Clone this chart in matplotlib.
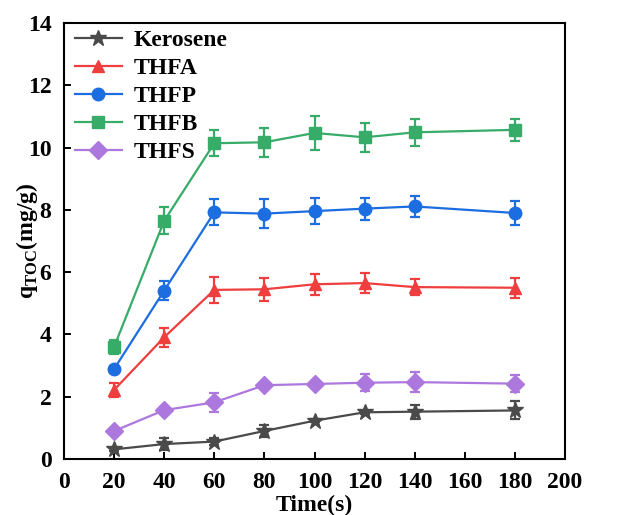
import matplotlib
matplotlib.use("Agg")
import matplotlib.pyplot as plt

plt.rcParams['font.family'] = ['Liberation Serif', 'DejaVu Serif']
plt.rcParams['font.weight'] = 'bold'
plt.rcParams['mathtext.fontset'] = 'custom'
plt.rcParams['mathtext.rm'] = 'Liberation Serif'
plt.rcParams['mathtext.bf'] = 'Liberation Serif:bold'

# data
time_s = [20, 40, 60, 80, 100, 120, 140, 180]

kerosene = [0.31, 0.48, 0.56, 0.90, 1.23, 1.50, 1.52, 1.56]
kerosene_err = [0.05, 0.20, 0.12, 0.20, 0.05, 0.05, 0.22, 0.29]

thfa = [2.22, 3.91, 5.43, 5.45, 5.61, 5.65, 5.52, 5.50]
thfa_err = [0.22, 0.31, 0.43, 0.37, 0.33, 0.32, 0.25, 0.32]

thfp = [2.89, 5.41, 7.92, 7.88, 7.96, 8.04, 8.11, 7.90]
thfp_err = [0.10, 0.31, 0.42, 0.46, 0.41, 0.35, 0.33, 0.37]

thfb = [3.60, 7.65, 10.14, 10.17, 10.47, 10.33, 10.49, 10.57]
thfb_err = [0.22, 0.44, 0.41, 0.47, 0.54, 0.47, 0.43, 0.35]

thfs = [0.90, 1.57, 1.82, 2.37, 2.41, 2.45, 2.47, 2.42]
thfs_err = [0.05, 0.07, 0.30, 0.07, 0.07, 0.28, 0.31, 0.28]

fig = plt.figure(figsize=(6.25, 5.15), dpi=100)
ax = fig.add_axes([0.1024, 0.1087, 0.8016, 0.8466])

series = [
    ("Kerosene", kerosene, kerosene_err, "#4a4a4a", "*", 12),
    ("THFA", thfa, thfa_err, "#ef3e3e", "^", 9),
    ("THFP", thfp, thfp_err, "#1c6de0", "o", 9),
    ("THFB", thfb, thfb_err, "#37ab68", "s", 8.5),
    ("THFS", thfs, thfs_err, "#ad78dd", "D", 9),
]

handles = []
names = []
for name, vals, errs, col, mk, ms in series:
    c = ax.errorbar(time_s, vals, yerr=errs, color=col, marker=mk, markersize=ms,
                    linewidth=1.6, elinewidth=1.6, capsize=3.8, capthick=1.6)
    handles.append(c[0])  # legend shows line+marker only, no error bar
    names.append(name)

ax.set_xlim(0, 200)
ax.set_ylim(0, 14)
ax.set_xticks(range(0, 201, 20))
ax.set_yticks(range(0, 15, 2))

ax.tick_params(axis='both', direction='in', length=5, width=1.4, labelsize=17,
               top=False, right=False)
ax.tick_params(axis='x', pad=9)
ax.tick_params(axis='y', pad=9)
for s in ax.spines.values():
    s.set_linewidth(1.5)

ax.set_xlabel("Time(s)", fontsize=17, fontweight='bold')
ax.set_ylabel(r"$\mathrm{q}_{\mathrm{TOC}}$(mg/g)", fontsize=17, fontweight='bold')
ax.xaxis.set_label_coords(0.5, -0.083)
ax.yaxis.set_label_coords(-0.047, 0.5)

ax.legend(handles, names, loc='upper left', bbox_to_anchor=(0.008, 1.0),
          frameon=False, handlelength=2.0, labelspacing=0.27, borderaxespad=0.1,
          borderpad=0.18, handletextpad=0.5, prop={'weight': 'bold', 'size': 17})

fig.savefig("out.png", dpi=100)
